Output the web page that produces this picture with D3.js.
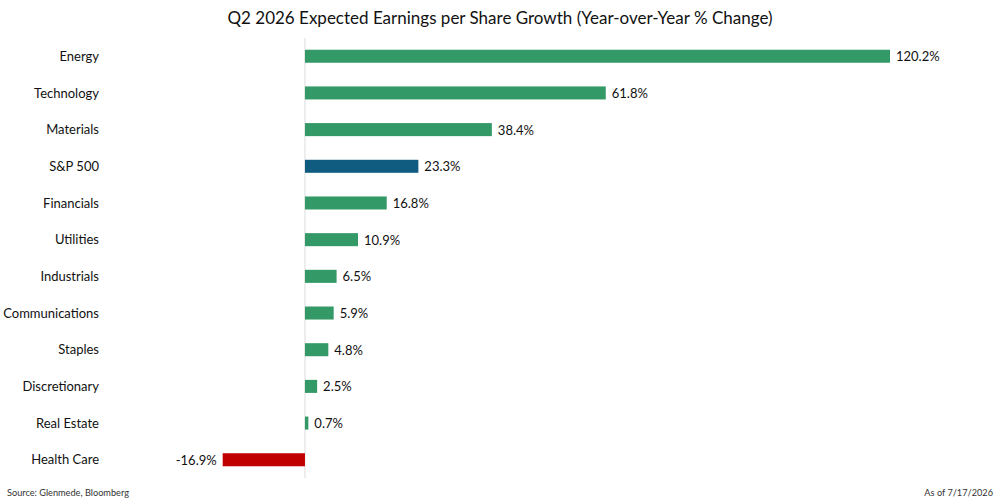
<!DOCTYPE html>
<html>
<head>
<meta charset="utf-8">
<script src="https://cdn.jsdelivr.net/npm/d3@7"></script>
<style>
  body { margin: 0; background: #fff; }
  svg { font-family: Lato, "Open Sans", sans-serif; }
</style>
</head>
<body>
<div id="chart"></div>
<script>
const categories = ["Energy", "Technology", "Materials", "S&P 500", "Financials", "Utilities",
    "Industrials", "Communications", "Staples", "Discretionary", "Real Estate", "Health Care"];
const values = [120.2, 61.8, 38.4, 23.3, 16.8, 10.9, 6.5, 5.9, 4.8, 2.5, 0.7, -16.9];
const titleText = "Q2 2026 Expected Earnings per Share Growth (Year-over-Year % Change)";
const sourceText = "Source: Glenmede, Bloomberg";
const dateText = "As of 7/17/2026";

const W = 1000, H = 503;
const svg = d3.select("#chart").append("svg").attr("width", W).attr("height", H);

const data = categories.map((c, i) => ({ name: c, value: values[i] }));

const x = d3.scaleLinear().domain([-16.9, 120.2]).range([222.7, 890]);
const y = d3.scaleBand().domain(categories).range([38, 478]).paddingInner(0.645).paddingOuter(0.32);

function color(d) {
    if (d.name === "S&P 500") return "#0f5c80";
    if (d.value < 0) return "#c00000";
    return "#339966";
}

svg.append("text")
    .attr("x", W / 2).attr("y", 24)
    .attr("text-anchor", "middle")
    .attr("font-size", 17)
    .attr("fill", "#111")
    .text(titleText);

// zero line
svg.append("line")
    .attr("x1", x(0)).attr("x2", x(0))
    .attr("y1", 38).attr("y2", 478)
    .attr("stroke", "#ddd").attr("stroke-width", 1);

// category axis
const yAxis = svg.append("g")
    .attr("transform", "translate(99,0.5)")
    .call(d3.axisLeft(y).tickSize(0).tickPadding(0));
yAxis.select(".domain").remove();
yAxis.selectAll("text").attr("font-size", 13).attr("fill", "#111").attr("font-family", "Lato, sans-serif");

svg.selectAll("rect.bar").data(data).enter().append("rect")
    .attr("class", "bar")
    .attr("x", d => x(Math.min(0, d.value)))
    .attr("width", d => Math.abs(x(d.value) - x(0)))
    .attr("y", d => y(d.name))
    .attr("height", y.bandwidth())
    .attr("fill", color);

svg.selectAll("text.val").data(data).enter().append("text")
    .attr("class", "val")
    .attr("x", d => d.value < 0 ? x(d.value) - 6 : x(d.value) + 6)
    .attr("y", d => y(d.name) + y.bandwidth() / 2 + 0.5)
    .attr("dy", "0.35em")
    .attr("text-anchor", d => d.value < 0 ? "end" : "start")
    .attr("font-size", 13)
    .attr("fill", "#111")
    .text(d => d.value.toFixed(1) + "%");

svg.append("text")
    .attr("x", 7).attr("y", 496)
    .attr("font-size", 9.2)
    .attr("fill", "#333")
    .text(sourceText);

svg.append("text")
    .attr("x", 993).attr("y", 496)
    .attr("text-anchor", "end")
    .attr("font-size", 9.2)
    .attr("fill", "#333")
    .text(dateText);
</script>
</body>
</html>
